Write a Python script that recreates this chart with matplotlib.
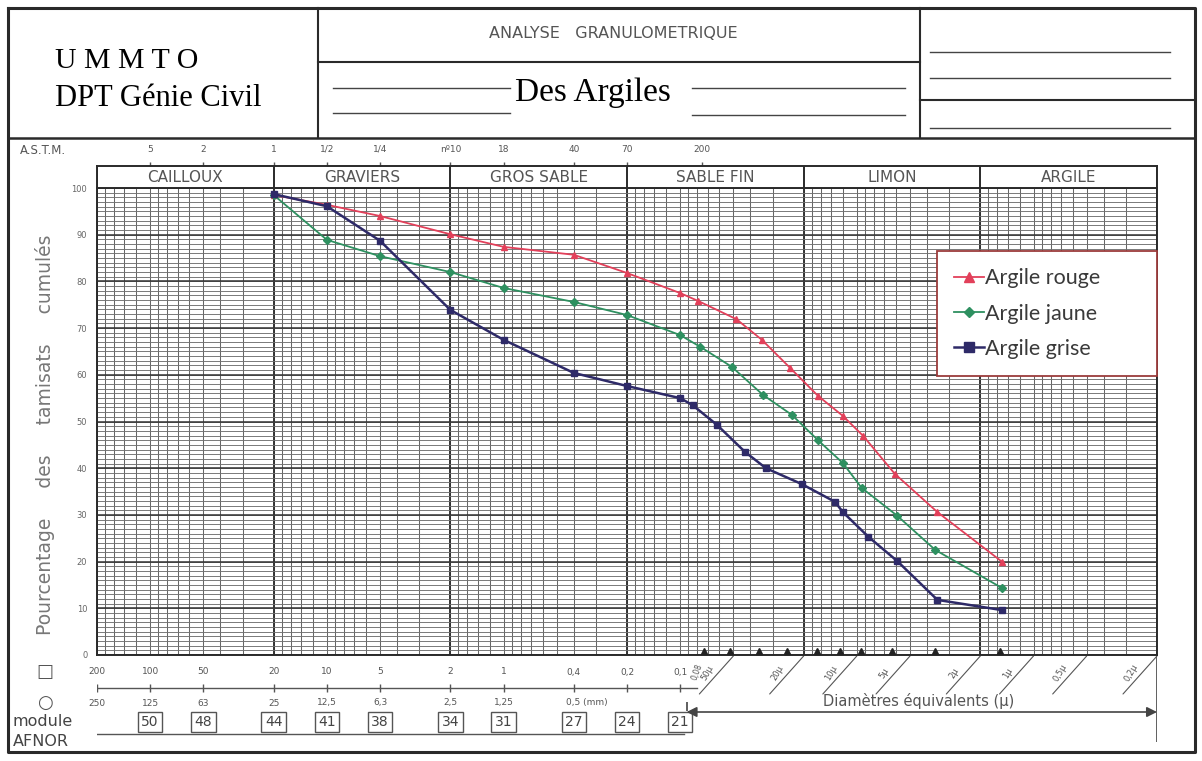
import numpy as np
import matplotlib
matplotlib.use("Agg")
import matplotlib.pyplot as plt
from matplotlib.ticker import NullLocator, FixedLocator
from matplotlib.transforms import offset_copy

# ---------------- data ----------------
rouge_d = [20, 10, 5, 2, 1, 0.4, 0.2, 0.1, 0.079, 0.048, 0.0345, 0.0239, 0.0166, 0.0120, 0.0092, 0.0061, 0.0035, 0.0015]
rouge_p = [98.5, 96.4, 94.0, 90.1, 87.4, 85.7, 81.8, 77.5, 75.8, 71.9, 67.5, 61.5, 55.5, 51.2, 46.9, 38.8, 30.6, 19.9]
jaune_d = [20, 10, 5, 2, 1, 0.4, 0.2, 0.1, 0.077, 0.051, 0.034, 0.0233, 0.0166, 0.0120, 0.0094, 0.0059, 0.0036, 0.0015]
jaune_p = [98.5, 88.9, 85.4, 82.0, 78.6, 75.6, 72.8, 68.5, 66.0, 61.7, 55.7, 51.4, 46.0, 41.1, 35.8, 29.8, 22.5, 14.3]
grise_d = [20, 10, 5, 2, 1, 0.4, 0.2, 0.1, 0.085, 0.062, 0.043, 0.0327, 0.0205, 0.0133, 0.0120, 0.0086, 0.0059, 0.0035, 0.0015]
grise_p = [98.7, 96.1, 88.7, 73.9, 67.5, 60.4, 57.6, 55.0, 53.5, 49.3, 43.5, 40.0, 36.6, 32.8, 30.6, 25.3, 20.1, 11.8, 9.6]

zone_bounds = [200, 20, 2, 0.2, 0.02, 0.002, 0.0002]
zone_names = ['CAILLOUX', 'GRAVIERS', 'GROS SABLE', 'SABLE FIN', 'LIMON', 'ARGILE']
astm_vals = [100, 50, 20, 10, 5, 2, 1, 0.4, 0.2, 0.075]
astm_labels = ['5', '2', '1', '1/2', '1/4', 'nº10', '18', '40', '70', '200']
sq_vals = [200, 100, 50, 20, 10, 5, 2, 1, 0.4, 0.2, 0.1]
sq_labels = ['200', '100', '50', '20', '10', '5', '2', '1', '0,4', '0,2', '0,1']
rond_labels = ['250', '125', '63', '25', '12,5', '6,3', '2,5', '1,25', '0,5 (mm)']
afnor_vals = [100, 50, 20, 10, 5, 2, 1, 0.4, 0.2, 0.1]
afnor_labels = ['50', '48', '44', '41', '38', '34', '31', '27', '24', '21']
mu_vals = [0.05, 0.02, 0.01, 0.005, 0.002, 0.001, 0.0005, 0.0002]
mu_labels = ['50µ', '20µ', '10µ', '5µ', '2µ', '1µ', '0,5µ', '0,2µ']
sed_marks = [0.073, 0.052, 0.036, 0.025, 0.0168, 0.0125, 0.0095, 0.0063, 0.0036, 0.00155]
y_ticks = list(range(0, 101, 10))

# ---------------- figure ----------------
W, H = 1202, 761
fig = plt.figure(figsize=(W / 100, H / 100), dpi=100)
fig.patch.set_facecolor('white')

def rect(x0, y0, x1, y1):
    return [x0 / W, 1 - y1 / H, (x1 - x0) / W, (y1 - y0) / H]

GRAY = '#555555'
DARK = '#2a2a2a'

frame = fig.add_axes([0, 0, 1, 1], zorder=0)
frame.set_xlim(0, W); frame.set_ylim(H, 0); frame.axis('off')

# outer frame & header
frame.plot([8, 1195, 1195, 8, 8], [8, 8, 752, 752, 8], color=DARK, lw=2.2)
frame.plot([8, 1195], [138, 138], color=DARK, lw=1.8)
frame.plot([318, 318], [8, 138], color=DARK, lw=1.5)
frame.plot([920, 920], [8, 138], color=DARK, lw=1.5)
frame.plot([318, 920], [62, 62], color=DARK, lw=1.5)
frame.plot([920, 1195], [100, 100], color=DARK, lw=1.5)
for yy in (52, 78, 128):
    frame.plot([930, 1170], [yy, yy], color='#444444', lw=1.0)
for yy in (88, 113):
    frame.plot([333, 510], [yy, yy], color='#444444', lw=1.0)
for yy in (88, 115):
    frame.plot([692, 905], [yy, yy], color='#444444', lw=1.0)

frame.text(55, 68, 'U M M T O', family='Liberation Serif', fontsize=21.5, color='black', va='baseline')
frame.text(55, 106, 'DPT Génie Civil', family='Liberation Serif', fontsize=22, color='black', va='baseline')
frame.text(515, 101, 'Des Argiles', family='Liberation Serif', fontsize=24, color='black', va='baseline')
frame.text(613, 33, 'ANALYSE   GRANULOMETRIQUE', fontsize=11.5, color=GRAY, ha='center', va='center')

frame.text(20, 150, 'A.S.T.M.', fontsize=8.5, color=GRAY, ha='left', va='center')
frame.text(45, 672, '□', fontsize=13, color=GRAY, ha='center', va='center')
frame.text(45, 703, '○', fontsize=13, color=GRAY, ha='center', va='center')
frame.text(13, 722, 'module', fontsize=11.5, color='#444444', ha='left', va='center')
frame.text(13, 742, 'AFNOR', fontsize=11.5, color='#444444', ha='left', va='center')
frame.text(45, 435, 'Pourcentage     des     tamisats     cumulés', fontsize=13.5, color='#777777',
           rotation=90, ha='center', va='center')

# ---------------- main axes ----------------
XL, XR, YT, YB = 97, 1157, 188, 655
ax = fig.add_axes(rect(XL, YT, XR, YB), zorder=2)
ax.set_xscale('log')
ax.set_xlim(200, 0.0002)
ax.set_ylim(0, 100)
ax.xaxis.set_major_locator(NullLocator()); ax.xaxis.set_minor_locator(NullLocator())
ax.yaxis.set_major_locator(FixedLocator(y_ticks))
ax.set_yticklabels([str(v) for v in y_ticks])
ax.tick_params(axis='y', length=0, pad=7, labelsize=6, labelcolor='#666666')
for s in ax.spines.values():
    s.set_color(DARK); s.set_linewidth(1.4)

grid_vals = []
for n in range(-4, 2):
    for m in [2, 3, 4, 5, 6, 7, 8, 9, 10, 12, 14, 16, 18]:
        v = m * 10.0 ** n
        if 0.0002 <= v <= 200:
            grid_vals.append(v)
ax.vlines(grid_vals, 0, 100, color='#666666', lw=0.75, zorder=1)
ax.vlines(zone_bounds, 0, 100, color='#333333', lw=1.4, zorder=1)
ax.hlines(range(0, 101), 200, 0.0002, color='#707070', lw=0.65, zorder=1)
ax.hlines(range(0, 101, 10), 200, 0.0002, color='#333333', lw=1.1, zorder=1)

l1, = ax.plot(rouge_d, rouge_p, color='#e2405a', lw=1.3, marker='^', ms=5, label='Argile rouge', zorder=4)
l2, = ax.plot(jaune_d, jaune_p, color='#2e9060', lw=1.3, marker='D', ms=3.8, label='Argile jaune', zorder=4)
l3, = ax.plot(grise_d, grise_p, color='#2e2a68', lw=1.8, marker='s', ms=5, label='Argile grise', zorder=5)

ax.plot(sed_marks, [0.9] * len(sed_marks), linestyle='none', marker='^', color='#222222', ms=4,
        clip_on=False, zorder=6)

lx0 = (937 - XL) / (XR - XL)
ly0 = (655 - 380) / (YB - YT)
ly1 = (655 - 247) / (YB - YT)
leg = ax.legend(handles=[l1, l2, l3], loc='center left',
                bbox_to_anchor=(lx0, ly0, 1 - lx0, ly1 - ly0), mode='expand',
                prop={'family': 'Lato', 'size': 15.5}, labelcolor='#3a3a3a',
                frameon=True, fancybox=False, edgecolor='#9b3b3b', framealpha=1,
                borderpad=0.8, labelspacing=0.7, handlelength=1.4, handletextpad=0.05,
                borderaxespad=0, markerscale=1.3)
leg.get_frame().set_linewidth(1.3)
leg.set_zorder(10)

# ---------------- band axes ----------------
band = fig.add_axes(rect(XL, 166, XR, YT), zorder=2)
band.set_xscale('log'); band.set_xlim(200, 0.0002); band.set_ylim(0, 1)
band.xaxis.set_major_locator(NullLocator()); band.xaxis.set_minor_locator(NullLocator())
band.set_yticks([])
for s in band.spines.values():
    s.set_color(DARK); s.set_linewidth(1.4)
band.vlines(zone_bounds, 0, 1, color=DARK, lw=1.4)
for a, b, name in zip(zone_bounds[:-1], zone_bounds[1:], zone_names):
    band.text(np.sqrt(a * b), 0.5, name, ha='center', va='center', fontsize=11, color=GRAY)
for v, lab in zip(astm_vals, astm_labels):
    band.vlines(v, 1.0, 1.18, color=GRAY, lw=1.0, clip_on=False)
    band.text(v, 1.75, lab, ha='center', va='center', fontsize=6.5, color=GRAY, clip_on=False)

# ---------------- bottom scales ----------------
bot = fig.add_axes(rect(XL, YB, XR, 752), zorder=1)
bot.set_xscale('log'); bot.set_xlim(200, 0.0002); bot.set_ylim(752, YB)
bot.axis('off')

for v, lab in zip(sq_vals, sq_labels):
    bot.text(v, 672, lab, ha='center', va='center', fontsize=6.5, color=GRAY)
    bot.vlines(v, 684, 692, color=GRAY, lw=1.0)
bot.plot([200, 0.08], [688, 688], color=GRAY, lw=1.0)
for v, lab in zip(sq_vals[:8], rond_labels[:8]):
    bot.text(v, 703, lab, ha='center', va='center', fontsize=6.5, color=GRAY)
bot.text(sq_vals[8], 703, rond_labels[8],
         transform=offset_copy(bot.transData, fig=fig, x=-8, y=0, units='dots'),
         ha='left', va='center', fontsize=6.5, color=GRAY)
bot.text(0.08, 672, '0,08', rotation=70, ha='center', va='center', fontsize=5.5, color=GRAY)

for v, lab in zip(afnor_vals, afnor_labels):
    bot.text(v, 722, lab, ha='center', va='center', fontsize=10, color='#444444',
             bbox=dict(boxstyle='square,pad=0.25', fc='white', ec='#555555', lw=1.0))
bot.plot([200, 0.095], [734, 734], color=GRAY, lw=1.0, zorder=0)

bot.annotate('', xy=(0.0002, 712), xytext=(0.092, 712),
             arrowprops=dict(arrowstyle='<|-|>', color='#444444', lw=1.2, mutation_scale=15,
                             shrinkA=0, shrinkB=0))
bot.vlines(0.0002, YB, 742, color='#444444', lw=1.2)
bot.vlines(0.092, 702, 711, color='#444444', lw=1.2)
bot.text(np.sqrt(0.1 * 0.0002), 701, 'Diamètres équivalents (µ)', ha='center', va='center',
         fontsize=10.5, color=GRAY)

for v, lab in zip(mu_vals, mu_labels):
    bot.annotate('', xy=(v, YB + 1), xytext=(-34, -38), textcoords='offset pixels',
                 arrowprops=dict(arrowstyle='-', color=GRAY, lw=0.8, shrinkA=0, shrinkB=0))
    bot.annotate(lab, xy=(v, YB + 1), xytext=(-26, -17), textcoords='offset pixels',
                 rotation=60, ha='center', va='center', fontsize=6, color=GRAY)

fig.savefig('out.png', dpi=100, facecolor='white')
